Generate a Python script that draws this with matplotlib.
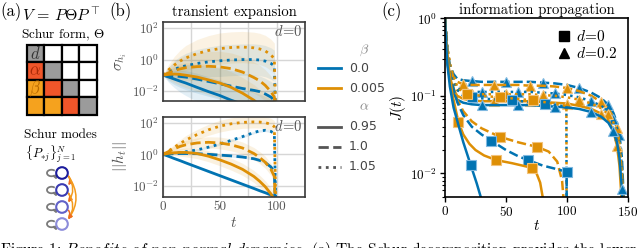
import numpy as np
import matplotlib
matplotlib.use('Agg')
import matplotlib.pyplot as plt
from matplotlib.patches import Rectangle, Circle, FancyArrowPatch, Arc
from matplotlib.lines import Line2D

plt.rcParams['mathtext.fontset'] = 'cm'
plt.rcParams['font.family'] = 'cmr10'
plt.rcParams['axes.formatter.use_mathtext'] = True

BLUE = '#0173b2'
ORANGE = '#de8f05'
BLUE_E = '#7fb8e0'
ORANGE_E = '#f2c27a'
GRAYTXT = '#555555'

# ---------------- panel (b) data (log10 values) ----------------
Tb = [0, 5, 10, 15, 20, 30, 40, 50, 60, 70, 80, 85, 90, 95, 98, 100]
sig_b0_a095 = [-1.0, -1.12, -1.25, -1.38, -1.5, -1.78, -2.05, -2.3, -2.6, -2.85, -3.1, -3.2, -3.35, -3.5, -3.55, -6]
sig_b0_a100 = [-1.0, -1.02, -1.05, -1.08, -1.12, -1.25, -1.4, -1.55, -1.7, -1.85, -1.97, -2.05, -2.2, -2.4, -2.6, -6]
sig_b0_a105 = [-1.0, -0.8, -0.62, -0.5, -0.4, -0.25, -0.15, -0.08, -0.03, 0.0, 0.0, -0.03, -0.1, -0.25, -0.4, -6]
sig_b5_a095 = [-1.0, -0.95, -0.93, -0.95, -1.0, -1.12, -1.3, -1.5, -1.78, -2.15, -2.6, -2.9, -3.2, -3.5, -3.7, -6]
sig_b5_a100 = [-1.0, -0.85, -0.7, -0.6, -0.52, -0.45, -0.43, -0.47, -0.58, -0.8, -1.15, -1.35, -1.65, -2.05, -2.4, -6]
sig_b5_a105 = [-1.0, -0.65, -0.35, -0.1, 0.1, 0.38, 0.58, 0.7, 0.77, 0.8, 0.75, 0.68, 0.55, 0.3, 0.05, -6]
sig_spread = [0.0, 0.35, 0.55, 0.7, 0.8, 0.9, 0.95, 1.0, 1.0, 1.0, 1.0, 1.0, 1.0, 1.0, 1.0, 1.0]

h_b0_a095 = [0, -0.13, -0.27, -0.4, -0.54, -0.81, -1.08, -1.35, -1.62, -1.89, -2.16, -2.3, -2.43, -2.57, -2.65, -6]
h_b0_a100 = [0, 0.02, 0.04, 0.05, 0.05, 0.04, 0.0, -0.05, -0.1, -0.17, -0.28, -0.38, -0.52, -0.8, -1.1, -6]
h_b0_a105 = [0, 0.03, 0.07, 0.11, 0.16, 0.28, 0.45, 0.65, 0.88, 1.12, 1.38, 1.48, 1.52, 1.45, 1.3, -6]
h_b5_a095 = [0, 0.06, 0.1, 0.12, 0.12, 0.05, -0.12, -0.35, -0.62, -0.95, -1.4, -1.7, -2.05, -2.5, -2.85, -6]
h_b5_a100 = [0, 0.18, 0.35, 0.5, 0.6, 0.72, 0.76, 0.72, 0.6, 0.4, 0.05, -0.2, -0.5, -0.95, -1.4, -6]
h_b5_a105 = [0, 0.22, 0.45, 0.68, 0.9, 1.25, 1.55, 1.78, 1.93, 2.02, 2.05, 2.04, 2.0, 1.9, 1.75, -6]
h_spread_b0 = [0, 0.02, 0.04, 0.05, 0.06, 0.07, 0.08, 0.08, 0.08, 0.08, 0.08, 0.08, 0.08, 0.08, 0.08, 0.08]
h_spread_b5 = [0, 0.1, 0.18, 0.24, 0.28, 0.32, 0.35, 0.37, 0.38, 0.38, 0.38, 0.38, 0.38, 0.38, 0.38, 0.38]

# ---------------- panel (c) data (log10 J) ----------------
# d = 0 (squares)
t_d0_b0_a095 = [0, 1, 2, 4, 7, 10, 15, 21, 26, 32]
J_d0_b0_a095 = [0, -0.35, -0.6, -0.88, -1.15, -1.32, -1.6, -1.89, -2.13, -2.45]
m_d0_b0_a095 = [7]
t_d0_b5_a095 = [0, 1, 3, 6, 11, 15, 20, 25, 32, 42, 55, 71.5, 75, 78, 80, 82]
J_d0_b5_a095 = [0, -0.3, -0.62, -0.98, -1.34, -1.5, -1.62, -1.7, -1.77, -1.83, -1.87, -1.93, -2.0, -2.12, -2.3, -2.6]
m_d0_b5_a095 = [4, 9, 11]
t_d0_b0_a100 = [0, 2, 5, 10, 15, 22, 30, 38, 50, 60, 68, 80, 90, 99.7, 100]
J_d0_b0_a100 = [0, -0.45, -0.8, -1.08, -1.25, -1.4, -1.5, -1.58, -1.7, -1.78, -1.83, -1.9, -1.94, -1.98, -5]
m_d0_b0_a100 = [7, 10, 13]
t_d0_b5_a100 = [0, 2, 5, 10, 15, 22, 30, 45, 60, 75.6, 85, 92, 96, 98.5]
J_d0_b5_a100 = [0, -0.45, -0.8, -1.05, -1.2, -1.33, -1.42, -1.53, -1.6, -1.66, -1.72, -1.85, -2.1, -2.6]
m_d0_b5_a100 = [7, 9]
t_d0_b0_a105 = [0, 2, 5, 10, 15, 22, 35, 55, 70, 82, 99.5, 100]
J_d0_b0_a105 = [0, -0.4, -0.7, -0.92, -1.0, -1.02, -1.04, -1.06, -1.08, -1.1, -1.14, -5]
m_d0_b0_a105 = [5, 7, 9]
t_d0_b5_a105 = [0, 2, 5, 10, 15, 18, 30, 45, 60, 72, 85, 99.5, 100]
J_d0_b5_a105 = [0, -0.38, -0.65, -0.88, -0.96, -0.98, -1.0, -1.02, -1.04, -1.06, -1.09, -1.13, -5]
m_d0_b5_a105 = [5, 7, 9]

# d = 0.2 (triangles)
t_d2 = [0, 1, 2, 4, 7, 10, 15, 22, 30, 40, 50, 60, 70, 80, 90, 100, 110, 120, 128, 134, 138, 141, 143, 145, 147]
J_d2_b0_a100 = [0, -0.25, -0.42, -0.6, -0.72, -0.78, -0.8, -0.81, -0.82, -0.82, -0.82, -0.82, -0.82, -0.83, -0.84, -0.86, -0.9, -0.96, -1.03, -1.12, -1.22, -1.35, -1.5, -1.8, -2.5]
J_d2_b5_a100 = [0, -0.27, -0.45, -0.63, -0.76, -0.82, -0.85, -0.86, -0.86, -0.86, -0.86, -0.86, -0.87, -0.87, -0.88, -0.9, -0.94, -1.0, -1.08, -1.17, -1.28, -1.42, -1.6, -2.0, -2.6]
J_d2_b0_a105 = [0, -0.28, -0.48, -0.68, -0.82, -0.9, -0.94, -0.95, -0.95, -0.95, -0.95, -0.95, -0.95, -0.96, -0.97, -0.99, -1.02, -1.07, -1.13, -1.2, -1.3, -1.42, -1.58, -1.9, -2.6]
J_d2_b5_a105 = [0, -0.3, -0.5, -0.7, -0.85, -0.93, -0.97, -0.98, -0.98, -0.98, -0.98, -0.98, -0.98, -0.99, -1.0, -1.02, -1.05, -1.1, -1.16, -1.24, -1.34, -1.48, -1.65, -2.0, -2.7]
J_d2_b5_a095 = [0, -0.32, -0.55, -0.76, -0.92, -1.0, -1.04, -1.06, -1.07, -1.07, -1.07, -1.07, -1.07, -1.08, -1.09, -1.1, -1.13, -1.17, -1.23, -1.32, -1.45, -1.65, -1.9, -2.4, -3.0]
J_d2_b0_a095 = [0, -0.33, -0.57, -0.8, -0.97, -1.05, -1.09, -1.11, -1.12, -1.12, -1.12, -1.12, -1.12, -1.13, -1.14, -1.15, -1.17, -1.21, -1.27, -1.35, -1.46, -1.6, -1.8, -2.2, -2.8]
m_d2_b0_a100 = [7, 10, 13, 16, 19, 22]
m_d2_b5_a100 = [6, 9, 12, 15, 18, 21]
m_d2_b0_a105 = [8, 11, 14, 17, 20]
m_d2_b5_a105 = [7, 10, 13, 16, 19]
m_d2_b5_a095 = [9, 12, 15, 18, 21]
m_d2_b0_a095 = [8, 11, 14, 17, 20, 23]

beta_labels = ['0.0', '0.005']
alpha_labels = ['0.95', '1.0', '1.05']
caption = (r'Figure 1: $\mathit{Benefits\ of\ non}$-$\mathit{normal\ dynamics}$. (a) The Schur decomposition provides the lower')

# ---------------- figure ----------------
W, H = 640, 248
fig = plt.figure(figsize=(6.4, 2.48), dpi=100)

def fpos(l, t, r, b):
    return [l / W, (H - b) / H, (r - l) / W, (b - t) / H]

axb1 = fig.add_axes(fpos(163, 22, 305, 101))
axb2 = fig.add_axes(fpos(163, 117, 305, 197))
axc = fig.add_axes(fpos(445, 18.3, 628, 197.3))

def style_b(ax):
    ax.set_yscale('log')
    ax.set_xlim(0, 125)
    ax.set_xticks([0, 25, 50, 75, 100, 125])
    ax.set_yticks([1e-2, 1e0, 1e2])
    ax.yaxis.set_minor_locator(matplotlib.ticker.NullLocator())
    ax.grid(True, color='#d6d6d6', lw=1.0)
    ax.set_axisbelow(True)
    ax.tick_params(length=0, labelsize=9.5, colors=GRAYTXT, pad=3)
    for s in ax.spines.values():
        s.set_color('#3a3a3a')
        s.set_linewidth(1.2)

b_sig = [(BLUE, '-', sig_b0_a095), (BLUE, '--', sig_b0_a100), (BLUE, ':', sig_b0_a105),
         (ORANGE, '-', sig_b5_a095), (ORANGE, '--', sig_b5_a100), (ORANGE, ':', sig_b5_a105)]
for col, ls, v in b_sig:
    v = np.array(v); s = np.array(sig_spread)
    axb1.fill_between(Tb, 10 ** (v - s), 10 ** (v + s), color=col, alpha=0.11, lw=0)
for col, ls, v in b_sig:
    axb1.plot(Tb, 10 ** np.array(v), color=col, ls=ls, lw=2.0)

b_h = [(BLUE, '-', h_b0_a095, h_spread_b0), (BLUE, '--', h_b0_a100, h_spread_b0), (BLUE, ':', h_b0_a105, h_spread_b0),
       (ORANGE, '-', h_b5_a095, h_spread_b5), (ORANGE, '--', h_b5_a100, h_spread_b5), (ORANGE, ':', h_b5_a105, h_spread_b5)]
for col, ls, v, s in b_h:
    v = np.array(v); s = np.array(s)
    axb2.fill_between(Tb, 10 ** (v - s), 10 ** (v + s), color=col, alpha=0.12, lw=0)
for col, ls, v, s in b_h:
    axb2.plot(Tb, 10 ** np.array(v), color=col, ls=ls, lw=2.0)

style_b(axb1); style_b(axb2)
axb1.set_ylim(10 ** -2.65, 10 ** 2.4)
axb2.set_ylim(10 ** -2.7, 10 ** 2.36)
axb1.set_xticklabels([])
axb2.set_xticklabels(['0', '', '50', '', '100', ''])
axb1.set_ylabel(r'$\sigma_{h_i}$', color=GRAYTXT, fontsize=11, labelpad=2)
axb2.set_ylabel(r'$||h_t||$', color=GRAYTXT, fontsize=11, labelpad=2)
axb2.set_xlabel(r'$t$', color=GRAYTXT, fontsize=11, labelpad=2)
axb1.set_title('transient expansion', fontsize=10.5, pad=4)
for ax in (axb1, axb2):
    ax.text(0.985, 0.97, r'$d\!=\!0$', transform=ax.transAxes, ha='right', va='top',
            fontsize=10.5, color=GRAYTXT)

# panel (c)
c_curves = [
    (t_d2, J_d2_b0_a100, m_d2_b0_a100, BLUE, '--', '^'),
    (t_d2, J_d2_b5_a100, m_d2_b5_a100, ORANGE, '--', '^'),
    (t_d2, J_d2_b0_a105, m_d2_b0_a105, BLUE, ':', '^'),
    (t_d2, J_d2_b5_a105, m_d2_b5_a105, ORANGE, ':', '^'),
    (t_d2, J_d2_b5_a095, m_d2_b5_a095, ORANGE, '-', '^'),
    (t_d2, J_d2_b0_a095, m_d2_b0_a095, BLUE, '-', '^'),
    (t_d0_b0_a105, J_d0_b0_a105, m_d0_b0_a105, BLUE, ':', 's'),
    (t_d0_b5_a105, J_d0_b5_a105, m_d0_b5_a105, ORANGE, ':', 's'),
    (t_d0_b5_a100, J_d0_b5_a100, m_d0_b5_a100, ORANGE, '--', 's'),
    (t_d0_b0_a100, J_d0_b0_a100, m_d0_b0_a100, BLUE, '--', 's'),
    (t_d0_b5_a095, J_d0_b5_a095, m_d0_b5_a095, ORANGE, '-', 's'),
    (t_d0_b0_a095, J_d0_b0_a095, m_d0_b0_a095, BLUE, '-', 's'),
]
for t, J, m, col, ls, mk in c_curves:
    ec = BLUE_E if col == BLUE else ORANGE_E
    axc.plot(t, 10 ** np.array(J), color=col, ls=ls, lw=1.8, marker=mk, markevery=m,
             ms=6.5 if mk == 's' else 7, mfc=col, mec=ec, mew=0.8)
axc.set_yscale('log')
axc.set_xlim(0, 150)
axc.set_ylim(10 ** -2.31, 1)
axc.set_xticks([0, 50, 100, 150])
axc.tick_params(which='major', length=3.5, width=1, labelsize=9.5, direction='out', pad=2)
axc.tick_params(which='minor', length=2, width=0.8, direction='out')
for s in axc.spines.values():
    s.set_linewidth(1.2)
axc.set_ylabel(r'$J(t)$', fontsize=11, labelpad=2)
axc.set_xlabel(r'$t$', fontsize=11, labelpad=0)
axc.set_title('information propagation', fontsize=10.5, pad=3)
hd = [Line2D([], [], ls='', marker='s', color='k', ms=6.5),
      Line2D([], [], ls='', marker='^', color='k', ms=7)]
axc.legend(hd, [r'$d\!=\!0$', r'$d\!=\!0.2$'], loc='upper right', frameon=False, fontsize=11,
           handletextpad=0.2, labelspacing=0.15, borderaxespad=0.3, handlelength=1.2)

# ---------------- overlay (pixel coords) ----------------
ov = fig.add_axes([0, 0, 1, 1])
ov.set_xlim(0, W); ov.set_ylim(H, 0); ov.axis('off')

ov.text(0, 12, '(a)', fontsize=12, va='center', ha='left')
ov.text(22, 15, r'$V\,=\,P\Theta P^{\top}$', fontsize=11.5, va='center', ha='left')
ov.text(109, 12, '(b)', fontsize=12, va='center', ha='left')
ov.text(381, 12, '(c)', fontsize=12, va='center', ha='left')

# Schur form matrix
ov.text(63, 35, r'Schur form, $\Theta$', fontsize=9.5, ha='center', va='center')
GR, RD, OR, WH = '#9b9b9b', '#f0562a', '#f5a21e', 'white'
mat = [[GR, WH, WH, WH], [RD, GR, WH, WH], [OR, RD, GR, WH], [OR, OR, RD, GR]]
x0, y0, c = 26.5, 44.5, 17.6
for i in range(4):
    for j in range(4):
        ov.add_patch(Rectangle((x0 + j * c, y0 + i * c), c, c, facecolor=mat[i][j],
                               edgecolor='black', lw=1.6))
ov.text(x0 + c / 2, y0 + c / 2, r'$d$', fontsize=12, ha='center', va='center', color='#333333')
ov.text(x0 + c / 2, y0 + 1.5 * c, r'$\alpha$', fontsize=12, ha='center', va='center', color='#a82a08')
ov.text(x0 + c / 2, y0 + 2.5 * c, r'$\beta$', fontsize=12, ha='center', va='center', color='#b86a00')

# Schur modes
ov.text(60, 135, 'Schur modes', fontsize=9.5, ha='center', va='center')
ov.text(50, 154, r'$\{P_{*j}\}_{j=1}^{N}$', fontsize=9, ha='center', va='center')
cy = [173, 190, 207, 224]
ccols = ['#1c1c9c', '#3b3bb2', '#6262c8', '#8c8cda']
for k, yy in enumerate(cy):
    ov.add_patch(Arc((51.5, yy), 9, 6.5, theta1=35, theta2=325, color='#7a7a7a', lw=1.3))
    ov.plot([54.5], [yy + 2.6], marker=(3, 0, 200), ms=3, color='#7a7a7a')
    ov.add_patch(Circle((62, yy), 5.8, facecolor='white', edgecolor=ccols[k], lw=1.5, zorder=3))
for i in range(4):
    for j in range(i + 1, 4):
        col = '#ef6a22' if j == i + 1 else '#f39a1c'
        rad = -0.45 if j == i + 1 else -0.38
        ov.add_patch(FancyArrowPatch((67, cy[i] + 1), (66.5, cy[j] - 2.5),
                                     connectionstyle=f'arc3,rad={rad}', arrowstyle='-|>',
                                     mutation_scale=5, color=col, lw=1.1, zorder=2))

# panel (b) legend
ov.text(364, 50, r'$\beta$', fontsize=10, color='#888888', ha='center', va='center')
ov.text(364, 107, r'$\alpha$', fontsize=10, color='#888888', ha='center', va='center')
leg_rows = [(68, BLUE, '-', beta_labels[0]), (88, ORANGE, '-', beta_labels[1]),
            (127, '#555555', '-', alpha_labels[0]), (147, '#555555', '--', alpha_labels[1]),
            (167, '#555555', ':', alpha_labels[2])]
for yy, col, ls, lab in leg_rows:
    ov.add_line(Line2D([318, 341], [yy, yy], color=col, ls=ls, lw=2.0))
    ov.text(349, yy, lab, fontsize=9, family='DejaVu Sans', color='#444444', ha='left', va='center')

# caption
ov.text(0, 240, caption, fontsize=11.1, ha='left', va='top')

fig.savefig('out.png', dpi=100)
